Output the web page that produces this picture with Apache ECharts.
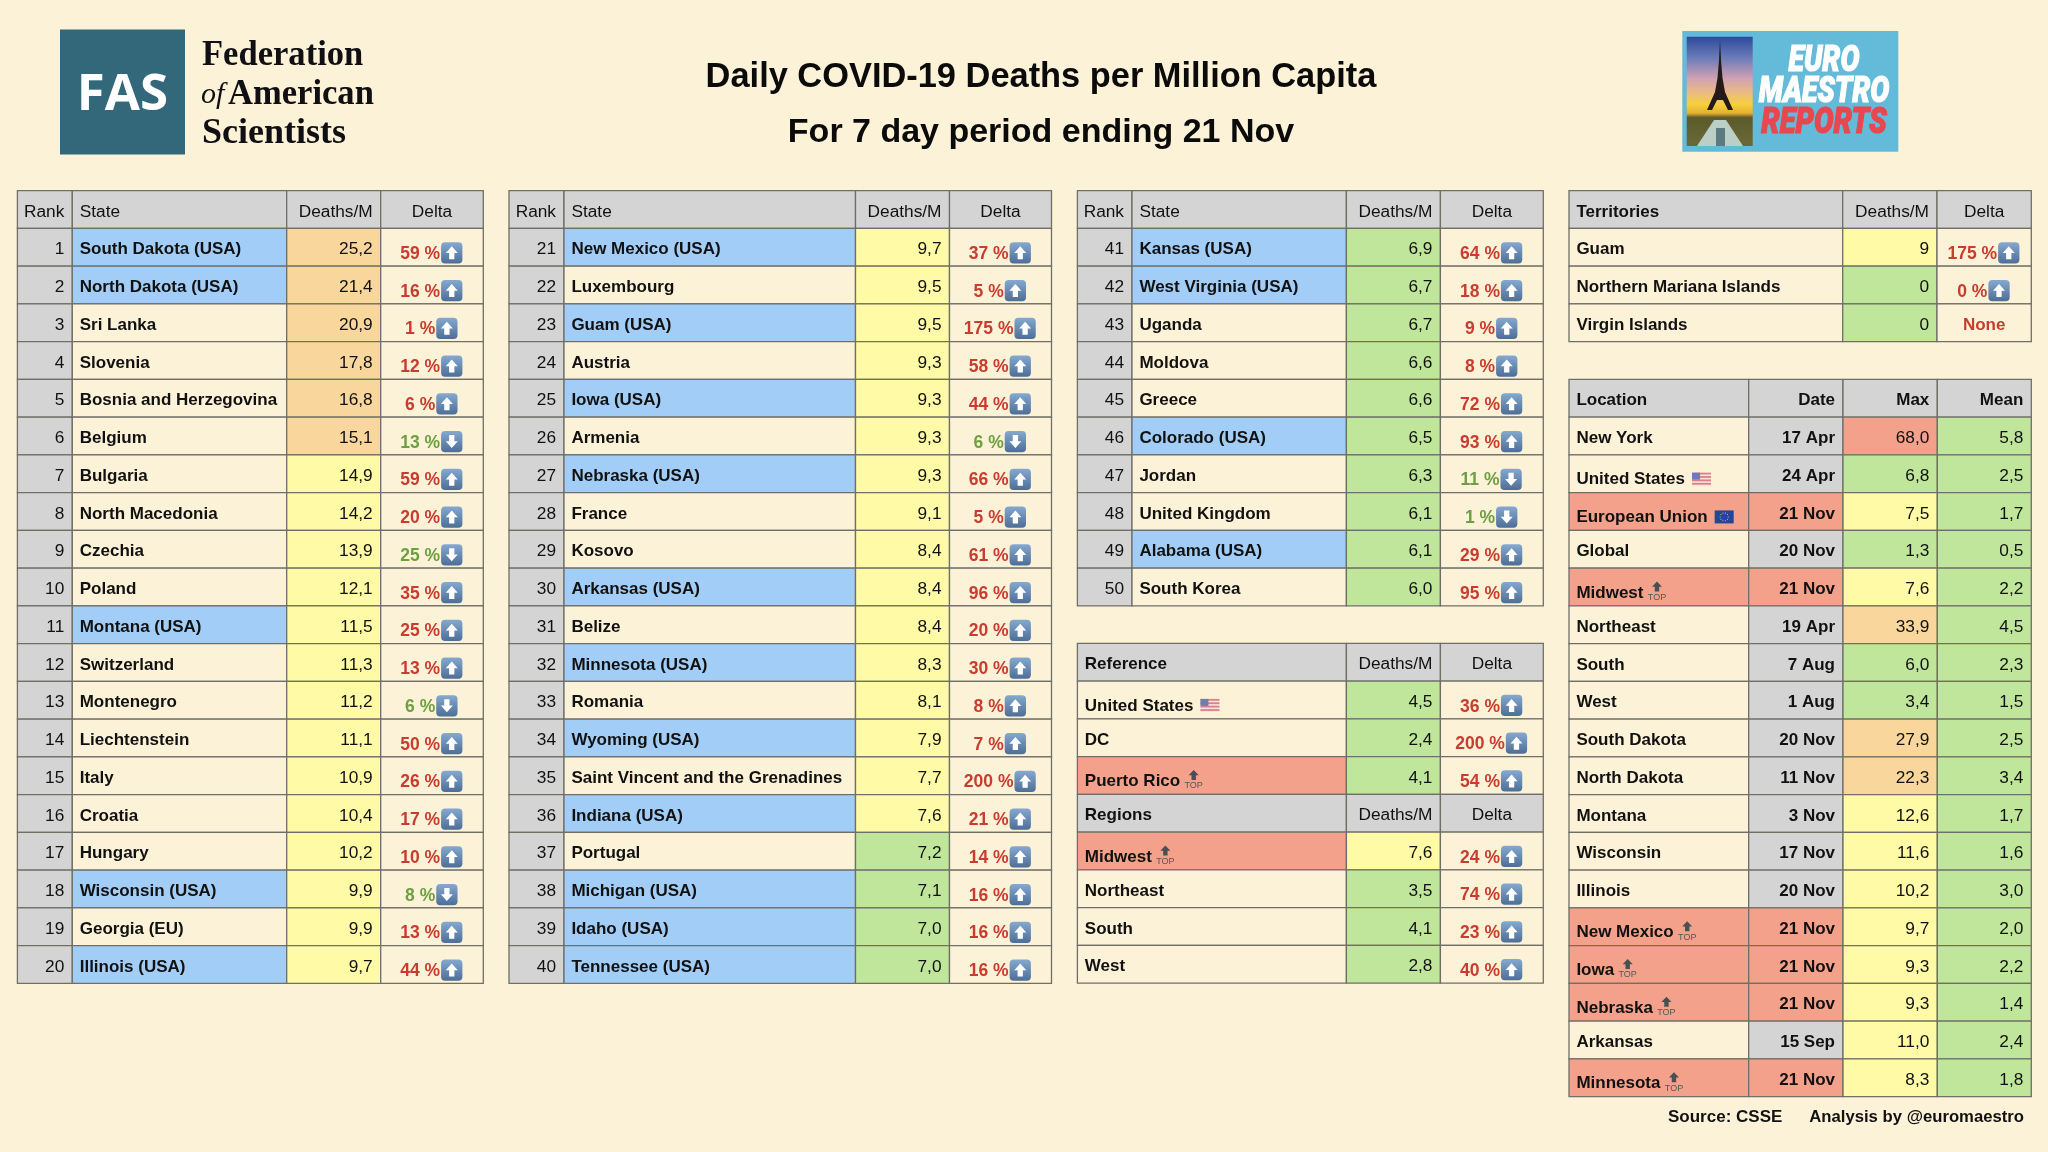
<!DOCTYPE html>
<html><head><meta charset="utf-8"><style>html,body{margin:0;padding:0;background:#FCF2D7}#c{width:2048px;height:1152px}</style>
<script src="https://cdn.jsdelivr.net/npm/echarts@6/dist/echarts.min.js"></script></head>
<body><div id="c"></div><script>
// ---------- data ----------
const names1=['South Dakota (USA)','North Dakota (USA)','Sri Lanka','Slovenia','Bosnia and Herzegovina','Belgium','Bulgaria','North Macedonia','Czechia','Poland','Montana (USA)','Switzerland','Montenegro','Liechtenstein','Italy','Croatia','Hungary','Wisconsin (USA)','Georgia (EU)','Illinois (USA)'];
const deaths1=[25.2,21.4,20.9,17.8,16.8,15.1,14.9,14.2,13.9,12.1,11.5,11.3,11.2,11.1,10.9,10.4,10.2,9.9,9.9,9.7];
const delta1=[59,16,1,12,6,13,59,20,25,35,25,13,6,50,26,17,10,8,13,44];
const dir1=['u','u','u','u','u','d','u','u','d','u','u','u','d','u','u','u','u','d','u','u'];
const names2=['New Mexico (USA)','Luxembourg','Guam (USA)','Austria','Iowa (USA)','Armenia','Nebraska (USA)','France','Kosovo','Arkansas (USA)','Belize','Minnesota (USA)','Romania','Wyoming (USA)','Saint Vincent and the Grenadines','Indiana (USA)','Portugal','Michigan (USA)','Idaho (USA)','Tennessee (USA)'];
const deaths2=[9.7,9.5,9.5,9.3,9.3,9.3,9.3,9.1,8.4,8.4,8.4,8.3,8.1,7.9,7.7,7.6,7.2,7.1,7.0,7.0];
const delta2=[37,5,175,58,44,6,66,5,61,96,20,30,8,7,200,21,14,16,16,16];
const dir2=['u','u','u','u','u','d','u','u','u','u','u','u','u','u','u','u','u','u','u','u'];
const names3=['Kansas (USA)','West Virginia (USA)','Uganda','Moldova','Greece','Colorado (USA)','Jordan','United Kingdom','Alabama (USA)','South Korea'];
const deaths3=[6.9,6.7,6.7,6.6,6.6,6.5,6.3,6.1,6.1,6.0];
const delta3=[64,18,9,8,72,93,11,1,29,95];
const dir3=['u','u','u','u','u','u','d','d','u','u'];
const terrNames=['Guam','Northern Mariana Islands','Virgin Islands'];
const terrDeaths=[9,0,0];
const terrDelta=[175,0,null];
const terrDir=['u','u',null];
const refNames=['United States','DC','Puerto Rico'];
const refMark=['us',null,'top'];
const refDeaths=[4.5,2.4,4.1];
const refDelta=[36,200,54];
const regNames=['Midwest','Northeast','South','West'];
const regMark=['top',null,null,null];
const regDeaths=[7.6,3.5,4.1,2.8];
const regDelta=[24,74,23,40];
const locNames=['New York','United States','European Union','Global','Midwest','Northeast','South','West','South Dakota','North Dakota','Montana','Wisconsin','Illinois','New Mexico','Iowa','Nebraska','Arkansas','Minnesota'];
const locMark=[null,'us','eu',null,'top',null,null,null,null,null,null,null,null,'top','top','top',null,'top'];
const locDates=['17 Apr','24 Apr','21 Nov','20 Nov','21 Nov','19 Apr','7 Aug','1 Aug','20 Nov','11 Nov','3 Nov','17 Nov','20 Nov','21 Nov','21 Nov','21 Nov','15 Sep','21 Nov'];
const locMax=[68.0,6.8,7.5,1.3,7.6,33.9,6.0,3.4,27.9,22.3,12.6,11.6,10.2,9.7,9.3,9.3,11.0,8.3];
const locMean=[5.8,2.5,1.7,0.5,2.2,4.5,2.3,1.5,2.5,3.4,1.7,1.6,3.0,2.0,2.2,1.4,2.4,1.8];
const titleLines=['Daily COVID-19 Deaths per Million Capita','For 7 day period ending 21 Nov'];
const rankHeaders=['Rank','State','Deaths/M','Delta'];
const locHeaders=['Location','Date','Max','Mean'];

// ---------- styling ----------
const BG='#FCF2D7',GRAY='#D4D4D4',BLUE='#A2CDF6',ORANGE='#F9D69B',YELLOW='#FFFAA6',GREEN='#BFE69A',SALMON='#F3A18A',LINE='#6F6F68',RED='#C93C30',DGREEN='#6F9F42',INK='#111';
const FAM='"Liberation Sans"';
const ROW=37.75;
const ctx=document.createElement('canvas').getContext('2d');
function tw(t,f){ctx.font=f;return ctx.measureText(t).width;}
const heat=v=>v>=50?SALMON:v>=15?ORANGE:v>=7.4?YELLOW:GREEN;
const f1=v=>v.toFixed(1).replace('.',',');

function cell(c,r,o){return Object.assign({c,r,fill:BG,text:'',al:'l',bold:false,color:INK,dy:2.4},o);}
function deltaCell(c,r,val,dir){
  if(val===null) return cell(c,r,{text:'None',al:'c',bold:true,color:RED,dy:2.4});
  return cell(c,r,{text:val+' %',al:'delta',bold:true,color:dir==='d'?DGREEN:RED,icon:dir,dy:5.5});
}
function rankTable(left,top,edges,offset,names,deaths,delta,dir){
  const cells=rankHeaders.map((h,i)=>cell(i,0,{fill:GRAY,text:h,al:i===0?'r':i===1?'l':i===2?'r':'c'}));
  names.forEach((n,k)=>{const r=k+1;
    cells.push(cell(0,r,{fill:GRAY,text:String(offset+k+1),al:'r'}));
    cells.push(cell(1,r,{fill:n.includes('(USA)')?BLUE:BG,text:n,bold:true}));
    cells.push(cell(2,r,{fill:heat(deaths[k]),text:f1(deaths[k]),al:'r'}));
    cells.push(deltaCell(3,r,delta[k],dir[k]));
  });
  return {left,top,edges,rows:names.length+1,cells};
}
function nameCell(c,r,n,m){
  return cell(c,r,{fill:m==='top'?SALMON:BG,text:n,bold:true,dy:m?6:2.4,mark:m});
}
const tables=[
  rankTable(17.4,190.7,[0,54.9,269.3,363.3,465.9],0,names1,deaths1,delta1,dir1),
  rankTable(509,190.7,[0,55,346.5,440.5,542.5],20,names2,deaths2,delta2,dir2),
  rankTable(1077.4,190.7,[0,54.6,269,363,465.9],40,names3,deaths3,delta3,dir3)
];
// territories
(function(){
  const cells=[cell(0,0,{fill:GRAY,text:'Territories',bold:true}),cell(1,0,{fill:GRAY,text:'Deaths/M',al:'r'}),cell(2,0,{fill:GRAY,text:'Delta',al:'c'})];
  terrNames.forEach((n,k)=>{const r=k+1;
    cells.push(cell(0,r,{text:n,bold:true}));
    cells.push(cell(1,r,{fill:terrDeaths[k]>=7.4?YELLOW:GREEN,text:String(terrDeaths[k]),al:'r'}));
    cells.push(deltaCell(2,r,terrDelta[k],terrDir[k]));
  });
  tables.push({left:1569,top:190.7,edges:[0,273.7,368,462.3],rows:4,cells});
})();
// reference + regions
(function(){
  const cells=[];
  const head=(r,t)=>{cells.push(cell(0,r,{fill:GRAY,text:t,bold:true}),cell(1,r,{fill:GRAY,text:'Deaths/M',al:'r'}),cell(2,r,{fill:GRAY,text:'Delta',al:'c'}));};
  head(0,'Reference');
  refNames.forEach((n,k)=>{const r=k+1;
    cells.push(nameCell(0,r,n,refMark[k]),cell(1,r,{fill:heat(refDeaths[k]),text:f1(refDeaths[k]),al:'r'}),deltaCell(2,r,refDelta[k],'u'));});
  head(4,'Regions');
  regNames.forEach((n,k)=>{const r=k+5;
    cells.push(nameCell(0,r,n,regMark[k]),cell(1,r,{fill:heat(regDeaths[k]),text:f1(regDeaths[k]),al:'r'}),deltaCell(2,r,regDelta[k],'u'));});
  tables.push({left:1077.4,top:643.3,edges:[0,269,363,465.9],rows:9,cells});
})();
// location
(function(){
  const cells=locHeaders.map((h,i)=>cell(i,0,{fill:GRAY,text:h,bold:true,al:i?'r':'l'}));
  locNames.forEach((n,k)=>{const r=k+1,m=locMark[k];
    const hot=m==='top'||m==='eu';
    const nc=nameCell(0,r,n,m); if(hot) nc.fill=SALMON;
    cells.push(nc,cell(1,r,{fill:hot?SALMON:GRAY,text:locDates[k],bold:true,al:'r'}),
      cell(2,r,{fill:heat(locMax[k]),text:f1(locMax[k]),al:'r'}),
      cell(3,r,{fill:heat(locMean[k]),text:f1(locMean[k]),al:'r'}));
  });
  tables.push({left:1569,top:379.3,edges:[0,179.7,274,368.3,462.3],rows:19,cells});
})();

// ---------- custom renderer ----------
function arrowPts(cx,cy,w,h){
  const hh=h*0.52,sw=w*0.22;
  return [[cx,cy-h/2],[cx+w/2,cy-h/2+hh],[cx+sw,cy-h/2+hh],[cx+sw,cy+h/2],[cx-sw,cy+h/2],[cx-sw,cy-h/2+hh],[cx-w/2,cy-h/2+hh]];
}
function iconEls(kind,x,cy){
  const S=21.3,y=cy-S/2,els=[];
  els.push({type:'rect',shape:{x,y,width:S,height:S,r:4},style:{fill:new echarts.graphic.LinearGradient(0,0,0,1,[{offset:0,color:'#86A9D0'},{offset:1,color:'#4C6E97'}])}});
  const pts=arrowPts(x+S/2,cy,12,13);
  const p=kind==='d'?pts.map(q=>[q[0],2*cy-q[1]]):pts;
  els.push({type:'polygon',shape:{points:p},style:{fill:'#fff'}});
  return els;
}
function markEls(m,x,cy){
  const els=[];
  if(m==='us'){
    const w=19,h=13,y=cy-h/2;
    els.push({type:'rect',shape:{x,y,width:w,height:h},style:{fill:'#F4E4E0'}});
    for(let i=0;i<4;i++) els.push({type:'rect',shape:{x,y:y+i*3.4,width:w,height:1.8},style:{fill:'#DD7F86'}});
    els.push({type:'rect',shape:{x,y,width:8,height:7},style:{fill:'#6C7DB8'}});
  } else if(m==='eu'){
    const w=19,h=13,y=cy-h/2;
    els.push({type:'rect',shape:{x,y,width:w,height:h},style:{fill:'#23459B'}});
    for(let i=0;i<10;i++){const a=i/10*Math.PI*2;els.push({type:'circle',shape:{cx:x+w/2+4*Math.cos(a),cy:cy+4*Math.sin(a),r:.55},style:{fill:'#E9D34E'}});}
  } else if(m==='top'){
    const ax=x+6.5,ay=cy-6;
    els.push({type:'polygon',shape:{points:arrowPts(ax,ay,10,10)},style:{fill:'#4A4F52'}});
    els.push({type:'text',style:{text:'TOP',x:ax,y:ay+11,fill:'#54585A',font:'9px '+FAM,align:'center',verticalAlign:'middle'}});
  }
  return els;
}
function render(tbl){
  return function(params,api){
    const d=tbl.cells[params.dataIndex];
    const x0=api.coord([tbl.edges[d.c],d.r])[0],x1=api.coord([tbl.edges[d.c+1],d.r])[0];
    const cy=api.coord([0,d.r])[1],h=api.size([0,1])[1];
    const els=[{type:'rect',shape:{x:x0,y:cy-h/2,width:x1-x0,height:h},style:{fill:d.fill,stroke:LINE,lineWidth:1.3}}];
    const font=(d.bold?'bold 17px ':'17.3px ')+FAM;
    const y=cy+d.dy;
    if(d.al==='delta'){
      const f='bold 17.5px '+FAM,tw0=tw(d.text,f),tot=tw0+1+21.3,sx=(x0+x1)/2-tot/2-.7;
      els.push({type:'text',style:{text:d.text,x:sx,y:y+1.3,fill:d.color,font:f,align:'left',verticalAlign:'middle'}});
      iconEls(d.icon,sx+tw0+1,y).forEach(e=>els.push(e));
    } else {
      let tx=d.al==='l'?x0+7.4:d.al==='r'?x1-8:(x0+x1)/2;
      els.push({type:'text',style:{text:d.text,x:tx,y,fill:d.color,font,align:d.al==='l'?'left':d.al==='r'?'right':'center',verticalAlign:'middle'}});
      if(d.mark) markEls(d.mark,tx+tw(d.text,font)+7,y-.5).forEach(e=>els.push(e));
    }
    return {type:'group',children:els};
  };
}
const grid=[],xAxis=[],yAxis=[],series=[];
tables.forEach((t,i)=>{
  const w=t.edges[t.edges.length-1];
  grid.push({left:t.left,top:t.top,width:w,height:t.rows*ROW,containLabel:false});
  xAxis.push({type:'value',gridIndex:i,min:0,max:w,show:false});
  yAxis.push({type:'category',gridIndex:i,inverse:true,show:false,data:Array.from({length:t.rows},(_,k)=>k)});
  series.push({type:'custom',xAxisIndex:i,yAxisIndex:i,coordinateSystem:'cartesian2d',clip:false,silent:true,animation:false,
    renderItem:render(t),encode:{x:0,y:1},data:t.cells.map(c=>[t.edges[c.c],c.r])});
});

// ---------- logos & titles ----------
const g=[];
g.push({type:'rect',shape:{x:60,y:29.5,width:125,height:125},style:{fill:'#33687A'}});
g.push({type:'text',x:122.5,y:95.5,style:{text:'FAS',fill:'#fff',font:'700 51px "Open Sans"',align:'center',verticalAlign:'middle'}});
const SER='"Liberation Serif"';
g.push({type:'text',x:202,y:55.5,scaleX:.96,style:{text:'Federation',fill:'#101014',font:'bold 36px '+SER,align:'left',verticalAlign:'middle'}});
g.push({type:'text',x:201,y:95,style:{text:'of',fill:'#101014',font:'italic 30px '+SER,align:'left',verticalAlign:'middle'}});
g.push({type:'text',x:228,y:95,scaleX:.96,style:{text:'American',fill:'#101014',font:'bold 36px '+SER,align:'left',verticalAlign:'middle'}});
g.push({type:'text',x:202,y:134,style:{text:'Scientists',fill:'#101014',font:'bold 36px '+SER,align:'left',verticalAlign:'middle'}});
titleLines.forEach((t,i)=>g.push({type:'text',x:1041,y:i?133:78,style:{text:t,fill:'#0b0b0b',font:'bold '+(i?34:34.4)+'px '+FAM,align:'center',verticalAlign:'middle'}}));
// EuroMaestro badge
g.push({type:'rect',shape:{x:1682.3,y:31,width:216,height:120.7},style:{fill:'#64BBD9'}});
g.push({type:'rect',shape:{x:1686.7,y:36.7,width:66,height:109.3},style:{fill:new echarts.graphic.LinearGradient(0,0,0,1,[
  {offset:0,color:'#2C4A9C'},{offset:.2,color:'#6E7DB8'},{offset:.38,color:'#CFA0B4'},{offset:.5,color:'#E9B98A'},{offset:.62,color:'#F7CE3E'},{offset:.7,color:'#E5B030'},{offset:.74,color:'#5C5A2C'},{offset:1,color:'#6B6A36'}])}});
g.push({type:'polygon',shape:{points:[[1720,40],[1721,60],[1722.5,78],[1725,92],[1733,110],[1728,110],[1723,100],[1717,100],[1712,110],[1707,110],[1715,92],[1717.5,78],[1719,60]]},style:{fill:'#241A18'}});
g.push({type:'polygon',shape:{points:[[1714,120],[1726,120],[1743,146],[1697,146]]},style:{fill:'#BCCFC6'}});
g.push({type:'rect',shape:{x:1716,y:128,width:9,height:18},style:{fill:'#5D7A80'}});
[['EURO',1824,61.5,'#fff',.77],['MAESTRO',1824,92.7,'#fff',.77],['REPORTS',1824,123.5,'#E8474F',.79]].forEach(a=>{
  g.push({type:'text',x:a[1],y:a[2],scaleX:a[4],style:{text:a[0],fill:a[3],stroke:a[3],lineWidth:1.2,font:'italic 900 37px Roboto',align:'center',verticalAlign:'middle'}});
});
// footer
g.push({type:'text',x:1668,y:1117,style:{text:'Source: CSSE',fill:'#111',font:'bold 17px '+FAM,align:'left',verticalAlign:'middle'}});
g.push({type:'text',x:2024,y:1117,style:{text:'Analysis by @euromaestro',fill:'#111',font:'bold 16.7px '+FAM,align:'right',verticalAlign:'middle'}});

const chart=echarts.init(document.getElementById('c'),null,{width:2048,height:1152});
chart.setOption({backgroundColor:BG,animation:false,grid,xAxis,yAxis,series,graphic:{elements:g}});
</script></body></html>
